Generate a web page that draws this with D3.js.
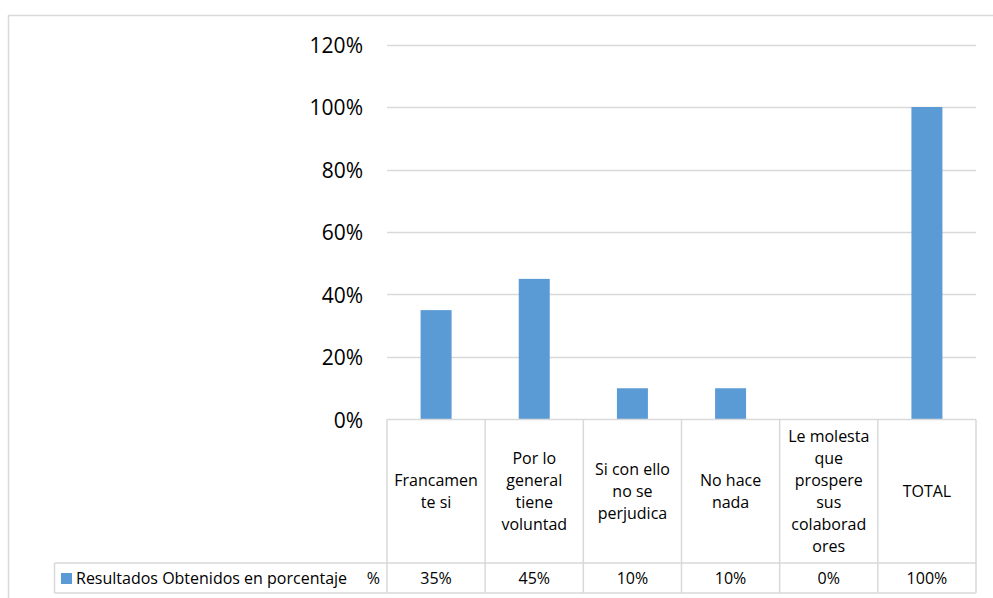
<!DOCTYPE html>
<html>
<head>
<meta charset="utf-8">
<script src="https://cdn.jsdelivr.net/npm/d3@7"></script>
<style>
  html, body { margin: 0; padding: 0; background: #fff; }
  svg { display: block; }
  text { font-family: "Open Sans", "Noto Sans", sans-serif; fill: #000; }
</style>
</head>
<body>
<svg id="chart" width="993" height="598"></svg>
<script>
// Survey results, one value per answer
const categories = [
  "Francamente si",
  "Por lo general tiene voluntad",
  "Si con ello no se perjudica",
  "No hace nada",
  "Le molesta que prospere sus colaboradores",
  "TOTAL"
];
// Wrapped label lines as shown in the data table header
const categoryLines = [
  ["Francamen", "te si"],
  ["Por lo", "general", "tiene", "voluntad"],
  ["Si con ello", "no se", "perjudica"],
  ["No hace", "nada"],
  ["Le molesta", "que", "prospere", "sus", "colaborad", "ores"],
  ["TOTAL"]
];
const values = [0.35, 0.45, 0.10, 0.10, 0.00, 1.00];
const valueLabels = ["35%", "45%", "10%", "10%", "0%", "100%"];
const seriesName = "Resultados Obtenidos en porcentaje";
const seriesUnit = "%";
const yTicks = [0, 0.2, 0.4, 0.6, 0.8, 1.0, 1.2];

const svg = d3.select("#chart");
const color = "#5B9BD5";
const lineColor = "#D9D9D9";
const tableFont = 16;

// Chart frame
svg.append("rect")
  .attr("x", 8.5).attr("y", 15.5)
  .attr("width", 1100).attr("height", 700)
  .attr("fill", "none").attr("stroke", lineColor).attr("stroke-width", 1.5);

const plot = { left: 387, right: 976, top: 44.5, bottom: 419.5 };
const tableRow1Bottom = 563;
const tableBottom = 593;
const legendLeft = 54.5;

const x = d3.scaleBand().domain(categories).range([plot.left, plot.right]).paddingInner(0).paddingOuter(0);
const y = d3.scaleLinear().domain([0, 1.2]).range([plot.bottom, plot.top]);

// Gridlines
svg.append("g")
  .selectAll("line")
  .data(yTicks.slice(1))
  .join("line")
  .attr("x1", plot.left).attr("x2", plot.right)
  .attr("y1", d => Math.round(y(d)) + 0.5).attr("y2", d => Math.round(y(d)) + 0.5)
  .attr("stroke", lineColor).attr("stroke-width", 1.3);

// Y axis labels
const yAxis = d3.axisLeft(y).tickValues(yTicks).tickFormat(d3.format(".0%")).tickSize(0).tickPadding(0);
const yg = svg.append("g").attr("transform", "translate(363,0)").call(yAxis);
yg.select(".domain").remove();
yg.selectAll("text")
  .attr("font-family", "'Open Sans', sans-serif")
  .attr("font-size", 21)
  .attr("fill", "#000")
  .attr("dy", "0.36em");

// Bars
const barW = 31;
svg.append("g")
  .selectAll("rect")
  .data(values)
  .join("rect")
  .attr("x", (d, i) => x(categories[i]) + x.bandwidth() / 2 - barW / 2)
  .attr("width", barW)
  .attr("y", d => y(d))
  .attr("height", d => y(0) - y(d))
  .attr("fill", color);

// Data table grid
const table = svg.append("g").attr("stroke", lineColor).attr("stroke-width", 1.5).attr("fill", "none");
table.append("line").attr("x1", plot.left).attr("x2", plot.right).attr("y1", plot.bottom).attr("y2", plot.bottom);
table.append("line").attr("x1", legendLeft).attr("x2", plot.right).attr("y1", tableRow1Bottom).attr("y2", tableRow1Bottom);
table.append("line").attr("x1", legendLeft).attr("x2", plot.right).attr("y1", tableBottom).attr("y2", tableBottom);
table.append("line").attr("x1", legendLeft).attr("x2", legendLeft).attr("y1", tableRow1Bottom).attr("y2", tableBottom);
const bounds = categories.map(c => x(c)).concat([plot.right]);
table.selectAll("line.col")
  .data(bounds)
  .join("line")
  .attr("class", "col")
  .attr("x1", d => d).attr("x2", d => d)
  .attr("y1", plot.bottom).attr("y2", tableBottom);

// Category labels in header row
const lineH = 22;
const headerMid = (plot.bottom + tableRow1Bottom) / 2;
categoryLines.forEach((lines, i) => {
  const cx = x(categories[i]) + x.bandwidth() / 2;
  const t = svg.append("text")
    .attr("text-anchor", "middle")
    .attr("font-size", tableFont);
  lines.forEach((ln, j) => {
    t.append("tspan")
      .attr("x", cx)
      .attr("y", headerMid + (j - (lines.length - 1) / 2) * lineH)
      .attr("dy", "0.36em")
      .text(ln);
  });
});

// Value row
const rowMid = (tableRow1Bottom + tableBottom) / 2;
svg.append("g")
  .selectAll("text")
  .data(valueLabels)
  .join("text")
  .attr("x", (d, i) => x(categories[i]) + x.bandwidth() / 2)
  .attr("y", rowMid)
  .attr("dy", "0.36em")
  .attr("text-anchor", "middle")
  .attr("font-size", tableFont)
  .text(d => d);

// Legend key in the table
svg.append("rect")
  .attr("x", 61).attr("y", 573).attr("width", 11).attr("height", 11)
  .attr("fill", color);
svg.append("text")
  .attr("x", 76).attr("y", rowMid).attr("dy", "0.36em")
  .attr("font-size", tableFont)
  .text(seriesName);
svg.append("text")
  .attr("x", 380).attr("y", rowMid).attr("dy", "0.36em")
  .attr("text-anchor", "end")
  .attr("font-size", tableFont)
  .text(seriesUnit);
</script>
</body>
</html>
